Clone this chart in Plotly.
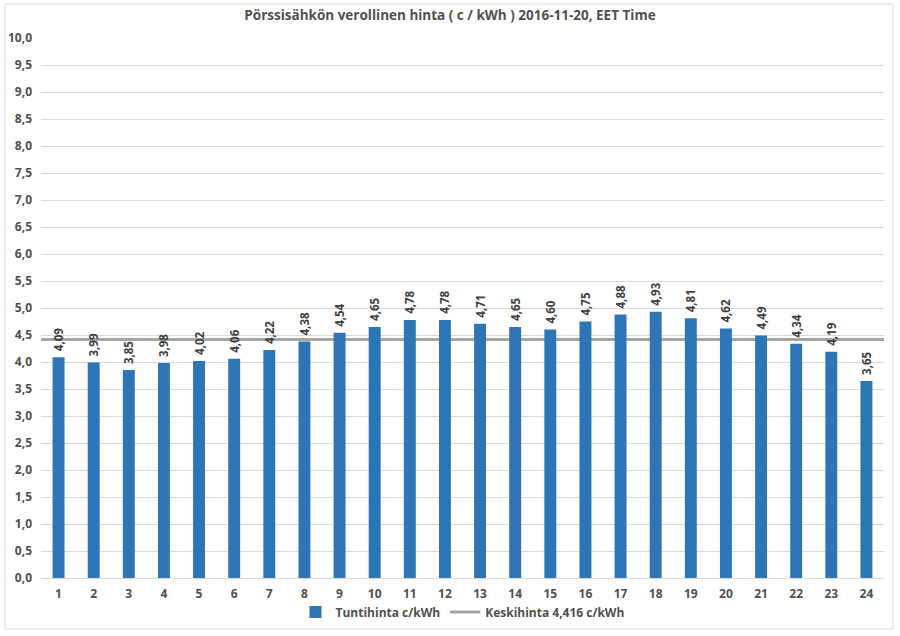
import plotly.graph_objects as go

hours = list(range(1, 25))
prices = [4.09, 3.99, 3.85, 3.98, 4.02, 4.06, 4.22, 4.38, 4.54, 4.65, 4.78, 4.78,
          4.71, 4.65, 4.60, 4.75, 4.88, 4.93, 4.81, 4.62, 4.49, 4.34, 4.19, 3.65]
average = 4.416
y_ticks = [i * 0.5 for i in range(21)]

title = "Pörssisähkön verollinen hinta ( c / kWh ) 2016-11-20, EET Time"
bar_name = "Tuntihinta c/kWh"
line_name = "Keskihinta 4,416 c/kWh"

font_family = "Open Sans, Liberation Sans, sans-serif"
txt_color = "#505050"

labels = ["&nbsp;<b>" + f"{v:.2f}".replace(".", ",") + "</b>" for v in prices]

fig = go.Figure()
fig.add_trace(go.Bar(
    x=hours, y=prices, name=bar_name, xaxis="x2",
    marker=dict(color="#2E75B6", line=dict(width=0)),
    text=labels, textposition="outside", textangle=-90,
    constraintext="none", cliponaxis=False,
    textfont=dict(size=11.5, color="#404040", family=font_family),
))
fig.add_trace(go.Scatter(
    x=hours, y=[average] * len(hours), name=line_name, mode="lines",
    line=dict(color="#A5A5A5", width=3), xaxis="x",
))

fig.update_layout(
    width=900, height=636,
    margin=dict(l=41, r=16, t=38, b=58, autoexpand=False),
    paper_bgcolor="white", plot_bgcolor="white",
    separators=", ",
    bargap=0.66,
    font=dict(family=font_family, color=txt_color, size=12),
    title=dict(text="<b>" + title + "</b>", x=0.5, xanchor="center", y=0.976,
               yanchor="middle", font=dict(size=13.5, color=txt_color, family=font_family)),
    xaxis=dict(range=[1, 24], visible=False),
    xaxis2=dict(overlaying="x", side="bottom", anchor="y",
                tickmode="array", tickvals=hours, ticktext=[f"<b>{h}</b>" for h in hours],
                range=[0.5, 24.5], showgrid=False, zeroline=False, automargin=False,
                showline=True, linecolor="#D9D9D9", linewidth=1, ticks="",
                tickfont=dict(size=12, color=txt_color), ticklabelstandoff=5),
    yaxis=dict(range=[0, 10], tickvals=y_ticks, automargin=False,
               ticktext=[f"<b>{v:.1f}</b>".replace(".", ",") for v in y_ticks],
               tickmode="array",
               showgrid=True, gridcolor="#D9D9D9", gridwidth=1, zeroline=False,
               showline=False, ticks="", tickfont=dict(size=12, color=txt_color),
               ticklabelstandoff=8),
    legend=dict(orientation="h", x=0.5, xanchor="center", y=-0.063, yanchor="middle",
                font=dict(size=12, color=txt_color, weight="bold"), itemwidth=30,
                traceorder="normal"),
    shapes=[dict(type="rect", xref="paper", yref="paper",
                 x0=-0.0427, x1=1.0107, y0=-0.0945, y1=1.0630,
                 line=dict(color="#D9D9D9", width=1), fillcolor="rgba(0,0,0,0)")],
)

fig.write_html("out.html", config={"displayModeBar": False},
               post_script="document.body.style.margin='0';")
